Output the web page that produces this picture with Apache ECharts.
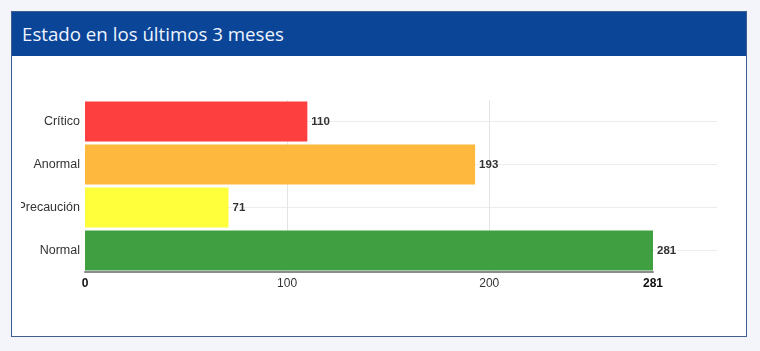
<!DOCTYPE html>
<html>
<head>
<meta charset="utf-8">
<script src="https://cdn.jsdelivr.net/npm/echarts@6/dist/echarts.min.js"></script>
<style>
  html, body { margin: 0; padding: 0; background: #f3f5fa; }
  body { width: 760px; height: 351px; position: relative; overflow: hidden; }
  .panel {
    position: absolute; left: 11px; top: 11px; width: 734px; height: 324px;
    background: #fff; border: 1px solid #3f5f8c; box-sizing: content-box;
  }
  .panel-head {
    height: 44px; background: #0b4597; color: #eef4ff;
    font-family: "Open Sans", "Noto Sans", sans-serif; font-size: 18.7px;
    line-height: 43px; padding-left: 10px; box-sizing: border-box;
  }
  #chart { position: absolute; left: 9px; top: 46px; width: 721px; height: 277px; }
</style>
</head>
<body>
<div class="panel">
  <div class="panel-head">Estado en los últimos 3 meses</div>
  <div id="chart"></div>
</div>
<script>
var categories = ['Crítico', 'Anormal', 'Precaución', 'Normal'];
var values = [110, 193, 71, 281];
var barColors = ['#fd3f40', '#ffb83e', '#ffff3c', '#40a041'];
var xLabels = [0, 100, 200, 281];
var xGridValues = [100, 200];

var dom = document.getElementById('chart');
var myChart = echarts.init(dom);

var maxValue = 281;
// the grid lines run a bit further than the data axis
var wideMax = maxValue * 631 / 567;

var barData = [];
for (var i = 0; i < values.length; i++) {
    barData.push({
        value: values[i],
        itemStyle: { color: barColors[i] }
    });
}

option = {
    animation: false,
    textStyle: { fontFamily: 'Liberation Sans, Arial, sans-serif' },
    grid: [
        { left: 64, right: 25, top: 42, bottom: 63, outerBoundsMode: 'none', containLabel: false },
        { left: 64, right: 89, top: 42, bottom: 63, outerBoundsMode: 'none', containLabel: false }
    ],
    xAxis: [{
        gridIndex: 0,
        type: 'value',
        min: 0,
        max: wideMax,
        axisLine: { show: false },
        axisTick: { show: false },
        axisLabel: { show: false },
        splitLine: { show: false }
    }, {
        gridIndex: 1,
        type: 'value',
        min: 0,
        max: maxValue,
        axisLine: { show: true, lineStyle: { color: '#8c8c8c', width: 2 } },
        axisTick: { show: false, customValues: xGridValues },
        axisLabel: {
            customValues: xLabels,
            margin: 6,
            fontSize: 12,
            formatter: function (v) {
                if (v === 0 || v === maxValue) return '{b|' + v + '}';
                return '{n|' + v + '}';
            },
            rich: {
                b: { fontWeight: 'bold', color: '#111', fontSize: 12 },
                n: { color: '#333', fontSize: 12 }
            }
        },
        splitLine: { show: true, lineStyle: { color: '#e4e4e4' } }
    }],
    yAxis: [{
        gridIndex: 0,
        type: 'category',
        inverse: true,
        data: categories,
        axisLine: { show: false },
        axisTick: { show: false },
        axisLabel: { show: false },
        splitLine: { show: true, alignWithLabel: true, lineStyle: { color: '#ececec' } }
    }, {
        gridIndex: 1,
        type: 'category',
        inverse: true,
        data: categories,
        axisLine: { show: false },
        axisTick: { show: false },
        axisLabel: { color: '#333', fontSize: 12.5, margin: 5 },
        splitLine: { show: false }
    }],
    series: [{
        type: 'bar',
        xAxisIndex: 1,
        yAxisIndex: 1,
        barCategoryGap: '7%',
        data: barData,
        label: {
            show: true,
            position: 'right',
            distance: 4,
            color: '#333',
            fontSize: 11.5,
            fontWeight: 'bold'
        }
    }]
};

if (option && typeof option === "object") {
    myChart.setOption(option, true);
}
</script>
</body>
</html>
